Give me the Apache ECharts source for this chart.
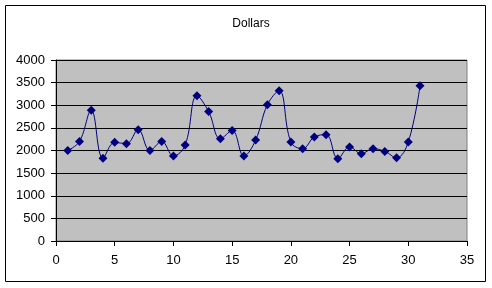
<!DOCTYPE html>
<html><head><meta charset="utf-8">
<script src="https://cdn.jsdelivr.net/npm/echarts@6/dist/echarts.min.js"></script>
<style>html,body{margin:0;padding:0;background:#fff}#c{width:492px;height:288px}</style>
</head><body><div id="c"></div>
<script>
const titleText = 'Dollars';
const days = [1,2,3,4,5,6,7,8,9,10,11,12,13,14,15,16,17,18,19,20,21,22,23,24,25,26,27,28,29,30,31];
const dollars = [2000,2200,2890,1830,2180,2150,2460,2000,2200,1880,2120,3210,2860,2260,2440,1880,2230,3010,3320,2190,2040,2300,2350,1820,2080,1930,2040,1980,1840,2190,3430];
const xTicks = {min:0, max:35, interval:5};
const yTicks = {min:0, max:4000, interval:500};

const chart = echarts.init(document.getElementById('c'), null, {renderer:'canvas'});
const font = 'Liberation Sans, Arial, sans-serif';
chart.setOption({
  animation:false,
  title:{text:titleText, left:246, top:13, textAlign:'center',
    textStyle:{fontFamily:font, fontSize:12, fontWeight:'normal', color:'#000'}},
  graphic:[{type:'rect', shape:{x:5.5,y:5.5,width:480,height:276}, style:{fill:'none', stroke:'#000', lineWidth:1}, silent:true}],
  grid:{left:56, right:25, top:60, bottom:47, show:true, backgroundColor:'#C0C0C0', borderColor:'#808080', borderWidth:1},
  xAxis:{type:'value', min:xTicks.min, max:xTicks.max, interval:xTicks.interval,
    axisLine:{show:true, onZero:false, lineStyle:{color:'#000', width:1}},
    axisTick:{show:true, length:5, lineStyle:{color:'#000'}},
    splitLine:{show:false},
    axisLabel:{fontFamily:font, fontSize:13, color:'#000', margin:13, formatter:v=>String(v)}},
  yAxis:{type:'value', min:yTicks.min, max:yTicks.max, interval:yTicks.interval,
    axisLine:{show:true, lineStyle:{color:'#000', width:1}},
    axisTick:{show:true, length:5, lineStyle:{color:'#000'}},
    splitLine:{show:true, lineStyle:{color:'#000', width:1}},
    axisLabel:{fontFamily:font, fontSize:13, color:'#000', margin:11, formatter:v=>String(v)}},
  series:[{type:'line', data:days.map((d,i)=>[d,dollars[i]]), smooth:0.4,
    symbol:'diamond', symbolSize:9, showSymbol:true,
    lineStyle:{color:'#000080', width:1}, itemStyle:{color:'#000080'}}]
});
</script></body></html>
